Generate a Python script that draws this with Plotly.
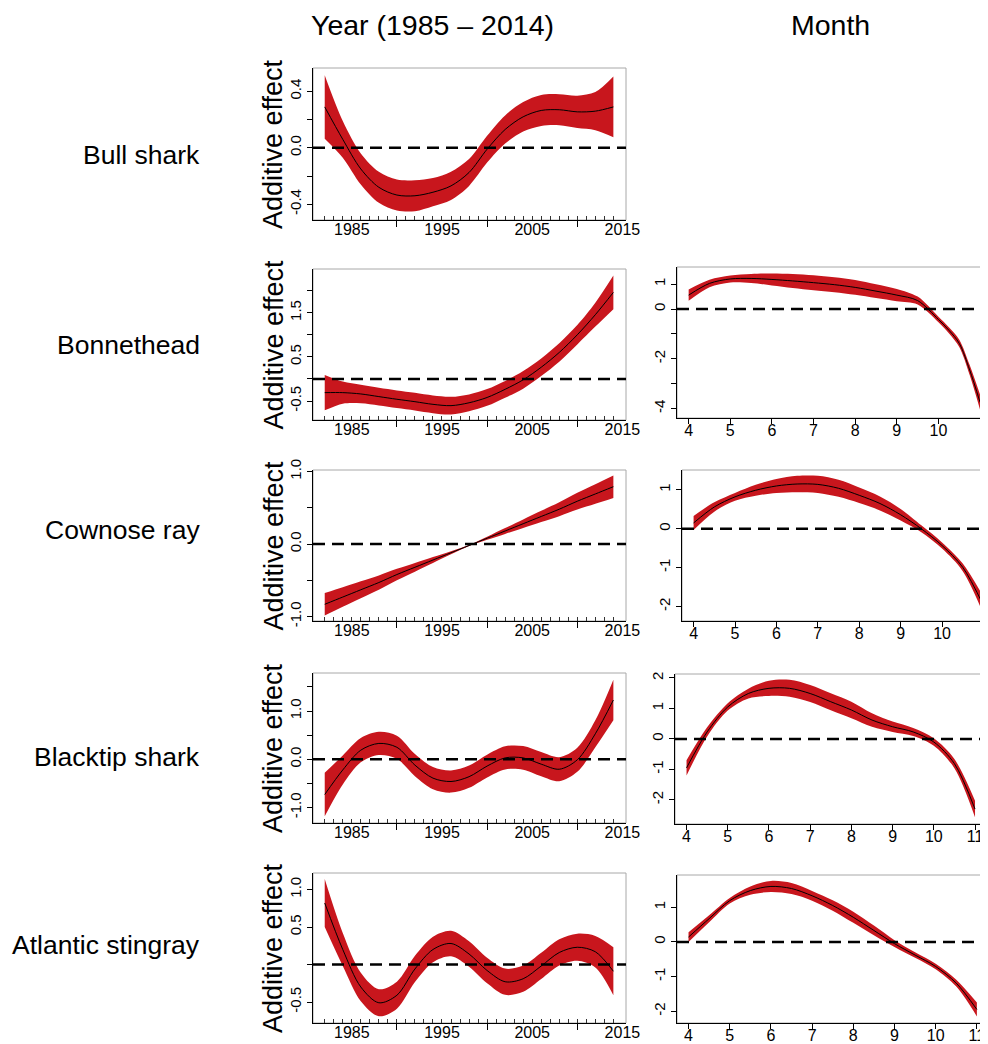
import plotly.graph_objects as go

# ---------------- data ----------------
years = [1982, 1984, 1986, 1988, 1990, 1992, 1994, 1996, 1998,
         2000, 2002, 2004, 2006, 2008, 2010, 2012, 2014]
rug_years = list(range(1982, 2015))
months = [4, 4.5, 5, 5.5, 6, 6.5, 7, 7.5, 8, 8.5, 9, 9.5, 10, 10.5, 11]
months_bonnet = [4, 4.5, 5, 5.5, 6, 6.5, 7, 7.5, 8, 8.5, 9, 9.5, 10, 10.25, 10.5, 10.75, 11]

species = ["Bull shark", "Bonnethead", "Cownose ray", "Blacktip shark", "Atlantic stingray"]
y_title = "Additive effect"

bull_year_mean = [0.29, 0.06, -0.15, -0.28, -0.335, -0.34, -0.315, -0.27, -0.175,
                  -0.01, 0.13, 0.22, 0.265, 0.27, 0.255, 0.26, 0.29]
bull_year_half = [0.225, 0.13, 0.11, 0.11, 0.11, 0.11, 0.10, 0.10, 0.095,
                  0.095, 0.10, 0.105, 0.11, 0.11, 0.115, 0.135, 0.215]

bonnet_year_mean = [-0.31, -0.31, -0.34, -0.40, -0.46, -0.515, -0.575, -0.605, -0.54,
                    -0.42, -0.235, -0.02, 0.265, 0.60, 1.00, 1.455, 1.96]
bonnet_year_half = [0.40, 0.25, 0.21, 0.20, 0.20, 0.20, 0.20, 0.20, 0.19,
                    0.19, 0.19, 0.20, 0.20, 0.21, 0.22, 0.27, 0.38]

cownose_year_mean = [-0.83, -0.73, -0.63, -0.53, -0.42, -0.32, -0.22, -0.12, -0.02,
                     0.08, 0.18, 0.28, 0.38, 0.48, 0.59, 0.69, 0.79]
cownose_year_half = [0.155, 0.135, 0.117, 0.098, 0.079, 0.06, 0.041, 0.022, 0.006,
                     0.02, 0.04, 0.058, 0.077, 0.096, 0.115, 0.135, 0.155]

blacktip_year_mean = [-0.73, -0.22, 0.19, 0.33, 0.25, -0.12, -0.39, -0.46, -0.36,
                      -0.14, 0.03, 0.03, -0.10, -0.205, -0.01, 0.53, 1.23]
blacktip_year_half = [0.45, 0.30, 0.25, 0.24, 0.24, 0.23, 0.23, 0.23, 0.23,
                      0.235, 0.24, 0.245, 0.25, 0.25, 0.25, 0.28, 0.42]

stingray_year_mean = [0.82, 0.20, -0.30, -0.51, -0.41, -0.06, 0.20, 0.28, 0.14,
                      -0.08, -0.23, -0.19, -0.02, 0.16, 0.23, 0.17, -0.09]
stingray_year_half = [0.32, 0.22, 0.19, 0.18, 0.18, 0.175, 0.17, 0.17, 0.17,
                      0.17, 0.175, 0.175, 0.175, 0.175, 0.18, 0.21, 0.32]

bonnet_month_mean = [0.56, 1.03, 1.21, 1.23, 1.19, 1.13, 1.06, 0.98, 0.87,
                     0.72, 0.56, 0.34, -0.42, -0.85, -1.38, -2.45, -3.75]
bonnet_month_half = [0.23, 0.15, 0.14, 0.18, 0.24, 0.28, 0.30, 0.30, 0.30,
                     0.28, 0.25, 0.16, 0.11, 0.12, 0.15, 0.2, 0.30]

cownose_month_mean = [0.15, 0.56, 0.82, 0.99, 1.10, 1.15, 1.14, 1.04, 0.86,
                      0.65, 0.36, 0.0, -0.43, -0.99, -1.97]
cownose_month_half = [0.18, 0.12, 0.10, 0.14, 0.18, 0.21, 0.22, 0.22, 0.20,
                      0.18, 0.15, 0.09, 0.08, 0.10, 0.22]

blacktip_month_mean = [-0.95, 0.23, 1.05, 1.49, 1.66, 1.66, 1.49, 1.22, 0.95,
                       0.62, 0.40, 0.23, -0.10, -0.81, -2.30]
blacktip_month_half = [0.25, 0.15, 0.12, 0.16, 0.25, 0.28, 0.28, 0.28, 0.27,
                       0.22, 0.17, 0.13, 0.12, 0.15, 0.27]

stingray_month_mean = [0.14, 0.67, 1.19, 1.48, 1.60, 1.54, 1.33, 1.05, 0.71,
                       0.33, -0.05, -0.38, -0.71, -1.19, -1.95]
stingray_month_half = [0.14, 0.10, 0.08, 0.12, 0.16, 0.16, 0.14, 0.15, 0.16,
                       0.14, 0.10, 0.08, 0.08, 0.10, 0.20]

year_series = [(bull_year_mean, bull_year_half), (bonnet_year_mean, bonnet_year_half),
               (cownose_year_mean, cownose_year_half), (blacktip_year_mean, blacktip_year_half),
               (stingray_year_mean, stingray_year_half)]
month_series = [None, (months_bonnet, bonnet_month_mean, bonnet_month_half),
                (months, cownose_month_mean, cownose_month_half),
                (months, blacktip_month_mean, blacktip_month_half),
                (months, stingray_month_mean, stingray_month_half)]

year_yticks = [
    ([-0.4, -0.2, 0.0, 0.2, 0.4], ["-0.4", "", "0.0", "", "0.4"]),
    ([-0.5, 0.0, 0.5, 1.0, 1.5, 2.0], ["-0.5", "", "0.5", "", "1.5", ""]),
    ([-1.0, -0.5, 0.0, 0.5, 1.0], ["-1.0", "", "0.0", "", "1.0"]),
    ([-1.0, -0.5, 0.0, 0.5, 1.0, 1.5], ["-1.0", "", "0.0", "", "1.0", ""]),
    ([-0.5, 0.0, 0.5, 1.0], ["-0.5", "", "0.5", "1.0"]),
]
month_yticks = [
    None,
    ([-4, -3, -2, -1, 0, 1], ["-4", "", "-2", "", "0", "1"]),
    ([-2, -1, 0, 1], ["-2", "-1", "0", "1"]),
    ([-2, -1, 0, 1, 2], ["-2", "-1", "0", "1", "2"]),
    ([-2, -1, 0, 1], ["-2", "-1", "0", "1"]),
]
year_label_ticks = [1985, 1995, 2005, 2015]
year_major_ticks = [1990, 2000, 2010]
month_ticks = [4, 5, 6, 7, 8, 9, 10, 11]

# ---------------- layout constants ----------------
# the page has an 8 px body margin, so the figure is placed at (8, 8)
OFF = 8
FW, FH = 980, 1036
RED = "#C8161D"
BOX = "#A8A8A8"
FONT = "Liberation Sans, Arial, sans-serif"


def px(x):
    return (x - OFF) / FW


def py(y):
    return 1 - (y - OFF) / FH


year_rows = [(68, 220), (269, 420), (470, 621), (673, 823), (873, 1023)]
year_yrange = [[-0.512, 0.566], [-0.93, 2.49], [-1.06, 1.02], [-1.32, 1.79], [-0.78, 1.22]]
year_x = (313, 626)
year_xrange = [1980.7, 2015.4]

month_rows = [None, (267, 418), (470, 621), (674, 824), (875, 1023)]
month_left = [None, 677, 682, 675, 677]
month_xrange = [None, [3.72, 11.19], [3.72, 11.11], [3.72, 11.315], [3.72, 11.27]]
month_yrange = [None, [-4.38, 1.69], [-2.37, 1.51], [-2.79, 2.13], [-2.34, 1.93]]


def sfx(n):
    return "" if n == 1 else str(n)


def ydom(top, bot):
    return [py(bot), py(top)]


fig = go.Figure()
layout = {}
shapes = []
annotations = []


def add_band(x, mean, half, n):
    lo = [m - h for m, h in zip(mean, half)]
    hi = [m + h for m, h in zip(mean, half)]
    xa, ya = "x" + sfx(n), "y" + sfx(n)
    fig.add_trace(go.Scatter(x=x, y=lo, mode="lines",
                             line=dict(width=0, shape="spline", smoothing=0.9, color=RED),
                             xaxis=xa, yaxis=ya, showlegend=False, hoverinfo="skip"))
    fig.add_trace(go.Scatter(x=x, y=hi, mode="lines",
                             line=dict(width=0, shape="spline", smoothing=0.9, color=RED),
                             fill="tonexty", fillcolor=RED,
                             xaxis=xa, yaxis=ya, showlegend=False, hoverinfo="skip"))
    fig.add_trace(go.Scatter(x=x, y=mean, mode="lines",
                             line=dict(width=1, shape="spline", smoothing=0.9, color="black"),
                             xaxis=xa, yaxis=ya, showlegend=False))


def common_y(tv, tt, rng, dom, anchor):
    return dict(domain=dom, range=rng, anchor=anchor, tickmode="array", tickvals=tv, ticktext=tt,
                tickangle=-90, ticks="outside", ticklen=5, tickcolor="black", tickwidth=1,
                showline=True, linecolor="black", linewidth=1, showgrid=False, zeroline=False,
                automargin=False,
                tickfont=dict(size=15, color="black", family=FONT))


def add_box_and_zero(n, x1dom):
    xs = "x" + sfx(n)
    ys = "y" + sfx(n)
    shapes.append(dict(type="rect", xref=xs + " domain", yref=ys + " domain", x0=0, x1=x1dom,
                       y0=0, y1=1, line=dict(color=BOX, width=1), layer="below"))
    shapes.append(dict(type="line", xref=xs + " domain", yref=ys, x0=0, x1=1, y0=0, y1=0,
                       line=dict(color="black", width=2.5, dash="12px,7px")))


# year panels: axes 1..5, rug axes 10..14
for i in range(5):
    n = i + 1
    top, bot = year_rows[i]
    mean, half = year_series[i]
    add_band(years, mean, half, n)
    tv, tt = year_yticks[i]
    layout["xaxis" + sfx(n)] = dict(
        domain=[px(year_x[0]), px(year_x[1])], range=year_xrange, anchor="y" + sfx(n),
        tickmode="array", tickvals=year_label_ticks, ticks="", ticklen=0,
        ticklabelstandoff=-5,
        minor=dict(tickmode="array", tickvals=year_major_ticks, ticks="outside", ticklen=6,
                   tickcolor="black", tickwidth=1, showgrid=False),
        showline=True, linecolor="black", linewidth=1, showgrid=False, zeroline=False,
        automargin=False,
        tickfont=dict(size=16, color="black", family=FONT))
    layout["yaxis" + sfx(n)] = common_y(tv, tt, year_yrange[i], ydom(top, bot), "x" + sfx(n))
    # rug axis
    r = 10 + i
    layout["xaxis" + sfx(r)] = dict(
        overlaying="x" + sfx(n), anchor="y" + sfx(n), side="bottom", range=year_xrange,
        tickmode="array", tickvals=rug_years, ticks="inside", ticklen=4, tickcolor="#333333",
        tickwidth=1, showticklabels=False, showline=False, showgrid=False, zeroline=False,
        automargin=False)
    fig.add_trace(go.Scatter(x=[rug_years[0]], y=[None], mode="lines", xaxis="x" + sfx(r),
                             yaxis="y" + sfx(n), showlegend=False, hoverinfo="skip"))
    add_box_and_zero(n, 1)
    # y-axis title
    annotations.append(dict(text=y_title, x=px(273), y=py((top + bot) / 2), xref="paper",
                            yref="paper", xanchor="center", yanchor="middle", textangle=-90,
                            showarrow=False, font=dict(size=27, color="black", family=FONT)))

# month panels: axes 6..9
for j in range(1, 5):
    n = 5 + j
    top, bot = month_rows[j]
    mx, mean, half = month_series[j]
    add_band(mx, mean, half, n)
    tv, tt = month_yticks[j]
    layout["xaxis" + sfx(n)] = dict(
        domain=[px(month_left[j]), 1.0], range=month_xrange[j], anchor="y" + sfx(n),
        tickmode="array", tickvals=month_ticks, ticks="outside", ticklen=5, tickcolor="black",
        ticklabelstandoff=-7,
        showline=True, linecolor="black", linewidth=1, showgrid=False, zeroline=False,
        automargin=False,
        tickfont=dict(size=16, color="black", family=FONT))
    layout["yaxis" + sfx(n)] = common_y(tv, tt, month_yrange[j], ydom(top, bot), "x" + sfx(n))
    add_box_and_zero(n, 1.05)

label_y = [155, 345, 530, 757, 945]
for name, yy in zip(species, label_y):
    annotations.append(dict(text=name, x=px(202), y=py(yy), xref="paper", yref="paper",
                            xanchor="right", yanchor="middle", showarrow=False,
                            font=dict(size=26.5, color="black", family=FONT)))
annotations.append(dict(text="Year (1985 \u2013 2014)", x=px(432), y=py(25), xref="paper",
                        yref="paper", xanchor="center", yanchor="middle", showarrow=False,
                        font=dict(size=28.5, color="black", family=FONT)))
annotations.append(dict(text="Month", x=px(830), y=py(25), xref="paper", yref="paper",
                        xanchor="center", yanchor="middle", showarrow=False,
                        font=dict(size=28.5, color="black", family=FONT)))

fig.update_layout(width=FW, height=FH, margin=dict(l=0, r=0, t=0, b=0, autoexpand=False),
                  paper_bgcolor="white", plot_bgcolor="white", showlegend=False,
                  font=dict(family=FONT, color="black"),
                  shapes=shapes, annotations=annotations, **layout)

fig.write_html("out.html")
